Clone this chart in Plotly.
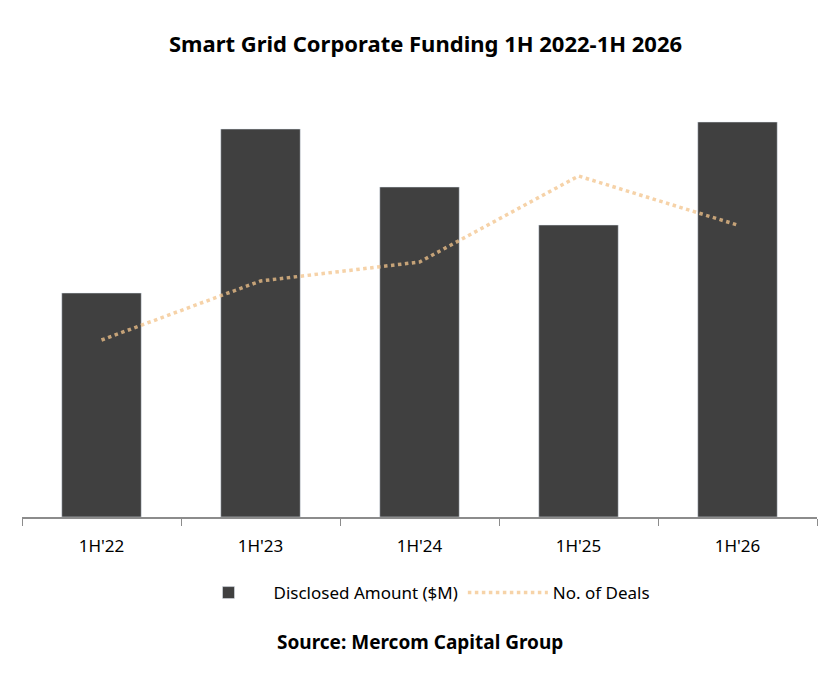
import plotly.graph_objects as go

periods = ["1H'22", "1H'23", "1H'24", "1H'25", "1H'26"]
amount = [224, 388, 330, 292, 395]
deals = [177, 236, 255, 341, 292]

fig = go.Figure()
fig.add_trace(go.Bar(x=periods, y=amount, name="Disclosed Amount ($M)",
                     marker_color="#404040"))
fig.add_trace(go.Scatter(x=periods, y=deals, name="No. of Deals", mode="lines",
                         line=dict(color="#f3c48b", width=3.5, dash="dot"),
                         opacity=0.75, yaxis="y2"))

fig.update_layout(
    width=835, height=687,
    margin=dict(l=14, r=26, t=77, b=178),
    plot_bgcolor="white", paper_bgcolor="white",
    font=dict(family="Noto Sans", size=16, color="#000"),
    title=dict(text="<b>Smart Grid Corporate Funding 1H 2022-1H 2026</b>",
               x=0.5, xanchor="center", y=0.958, font=dict(size=22)),
    bargap=0.5,
    showlegend=True,
    legend=dict(orientation="h", x=0.5, xanchor="center", y=-0.176, yanchor="middle",
                font=dict(size=17), itemwidth=80),
    xaxis=dict(type="category", showline=True, linecolor="#8c8c8c", linewidth=1.5,
               ticks="outside", tickson="boundaries", ticklen=7, tickcolor="#8c8c8c",
               tickfont=dict(size=17), ticklabelstandoff=13),
    yaxis=dict(range=[0, 432], visible=False),
    yaxis2=dict(range=[0, 432], visible=False, overlaying="y"),
    annotations=[dict(text="<b>Source: Mercom Capital Group</b>", x=0.5, xref="paper",
                      y=-0.325, yref="paper", showarrow=False, font=dict(size=19))],
)
fig.write_html("out.html")
